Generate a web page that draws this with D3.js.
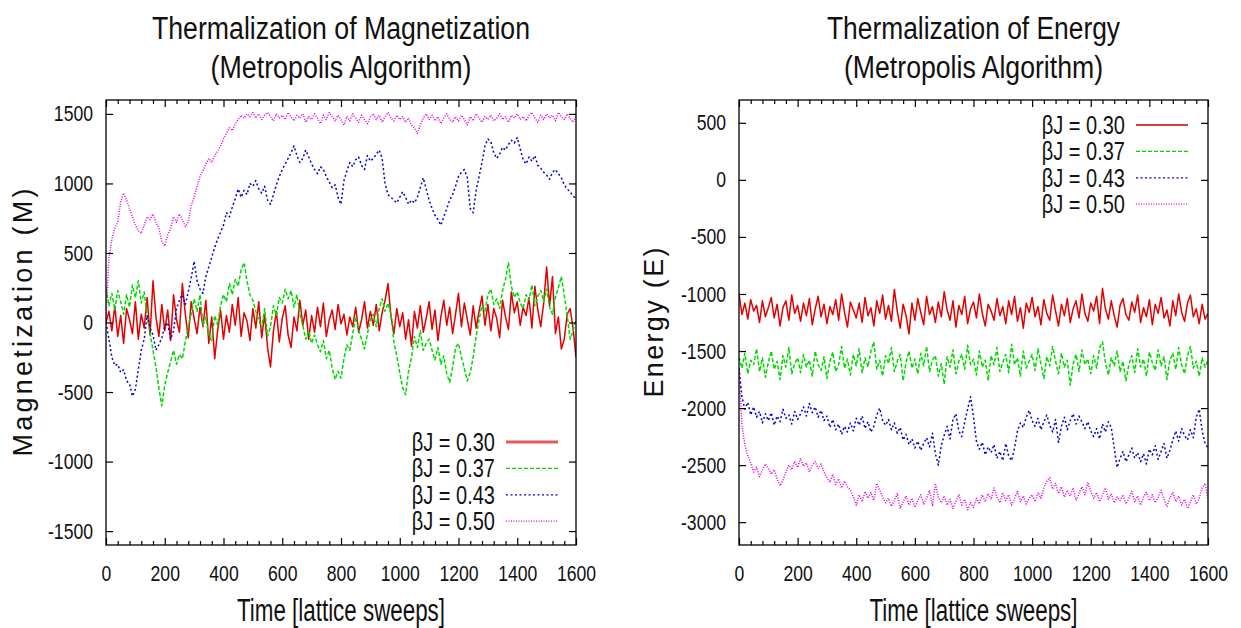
<!DOCTYPE html>
<html lang="en">
<head>
    <meta charset="UTF-8">
    <title>Thermalization (Metropolis Algorithm)</title>
    <script src="https://d3js.org/d3.v7.min.js"></script>
    <style>
        body { margin: 0; background: #fff; }
        text { fill: #111; }
        .narrow { font-family: 'Liberation Sans Narrow', 'Liberation Sans', Arial, sans-serif; }
        .wide { font-family: 'Liberation Sans', Arial, sans-serif; }
    </style>
</head>
<body>

    <script>
        // Sampling of the time axis (lattice sweeps)
        const sweepStep = 10;
        const sweeps = d3.range(0, 1601, sweepStep);

        // Series labels
        const seriesLabels = ['βJ = 0.30', 'βJ = 0.37', 'βJ = 0.43', 'βJ = 0.50'];

        // Magnetization, one value per 10 sweeps
        const magM030 = [
            0, 80, -60, 120, -100, 50, -150, 100, 20, -80, 150,
            -120, 60, -40, 180, -90, 300, 40, -100, 130, -60,
            90, -130, 200, 20, -70, 280, 60, -110, 150, 30,
            -80, 110, -30, 160, -150, 40, -260, -60, 90, -120,
            50, -70, 130, -20, 180, -100, 70, 10, -130, 100,
            -40, 150, -110, 60, -180, -320, -60, 80, -140, 30,
            120, -90, -180, 40, -60, 160, -20, 90, -120, 50,
            -70, 110, -30, 140, -100, 20, 90, -50, 130, -10,
            60, -90, 40, -30, 110, -70, 20, 150, -40, 80,
            -20, 130, -60, 70, 160, 280, 50, -80, 100, -30,
            70, -120, 20, -170, 80, -40, 120, -70, 30, 150,
            -50, 90, -130, 40, 160, -20, 110, -80, 60, 210,
            -30, 140, 20, -90, 120, -40, 80, 190, -20, 130,
            -60, 100, 30, -110, 160, 40, -50, 220, 70, 150,
            -20, 110, 50, 180, -40, 260, 90, -30, 140, 400,
            120, 330, -80, 40, -190, -120, 60, 100, -40, -250
        ];
        const magM037 = [
            250, 120, 210, 90, 230, 150, 60, 200, 110, 270, 180,
            300, 140, 220, 50, -80, -200, -320, -470, -600, -450,
            -360, -280, -200, -300, -230, -260, -140, -30, 60, 170,
            80, 200, -20, 40, -100, -130, 50, -20, 120, 200,
            150, 280, 200, 310, 260, 380, 430, 300, 200, 160,
            80, 20, -40, 100, -100, -30, 120, 50, 180, 140,
            240, 170, 230, 110, 200, 60, -20, -120, -60, -150,
            -90, -160, -210, -130, -260, -200, -330, -410, -350, -400,
            -260, -160, -200, -80, 40, -50, -120, -190, -80, 20,
            60, -30, 100, 170, 80, 140, 60, -140, -240, -360,
            -470, -520, -350, -250, -100, -180, -60, -200, -150, -120,
            -200, -270, -180, -300, -240, -370, -430, -320, -180, -150,
            -250, -330, -420, -360, -250, -100, 20, 120, 80, 200,
            240, 130, 170, 100, 230, 310, 430, 260, 180, 220,
            140, 100, 200, 160, 270, 120, 190, 230, 150, 240,
            110, 60, 180, 250, 330, 200, 50, -120, -60, 20
        ];
        const magM043 = [
            0, -120, -250, -310, -300, -360, -340, -420, -440, -530, -480,
            -340, -200, -120, 50, -40, -90, -200, -160, -110, -30,
            0, -120, -60, 100, 160, 200, 130, 220, 320, 440,
            300, 240, 210, 330, 400, 470, 540, 600, 650, 700,
            790, 760, 830, 890, 960, 900, 950, 920, 1000, 980,
            1020, 960, 930, 980, 880, 850, 920, 990, 1050, 1100,
            1140, 1180, 1220, 1270, 1200, 1150, 1180, 1240, 1190, 1140,
            1100, 1070, 1120, 1100, 1050, 1010, 970, 990, 900, 850,
            1020, 1090, 1150, 1120, 1170, 1190, 1130, 1100, 1200, 1160,
            1180, 1210, 1240, 1180, 1000, 920, 900, 880, 860, 900,
            940, 900, 850, 880, 860, 900, 970, 1040, 960, 880,
            820, 770, 740, 700, 760, 820, 880, 920, 980, 1050,
            1080, 1100, 1040, 820, 790, 950, 1050, 1150, 1270, 1320,
            1300, 1220, 1180, 1210, 1260, 1240, 1280, 1310, 1290, 1330,
            1250, 1170, 1140, 1190, 1160, 1200, 1130, 1110, 1080, 1060,
            1030, 1080, 1100, 1070, 1040, 990, 960, 940, 910, 890
        ];
        const magM050 = [
            50, 460, 600, 680, 720, 870, 930, 880, 820, 760, 700,
            660, 640, 700, 760, 740, 780, 720, 680, 580, 550,
            630, 680, 760, 720, 780, 740, 690, 720, 840, 900,
            980, 1050, 1090, 1140, 1180, 1150, 1200, 1230, 1270, 1320,
            1360, 1400, 1380, 1430, 1460, 1490, 1470, 1500, 1480, 1510,
            1470, 1500, 1460, 1490, 1510, 1480, 1450, 1500, 1470, 1490,
            1460, 1510, 1480, 1450, 1490, 1470, 1500, 1440, 1480, 1460,
            1500, 1470, 1430, 1490, 1460, 1510, 1480, 1450, 1490, 1460,
            1420, 1480, 1450, 1500, 1470, 1440, 1490, 1460, 1430, 1480,
            1500, 1460, 1490, 1440, 1480, 1510, 1470, 1450, 1490, 1460,
            1480, 1440, 1470, 1420, 1400, 1360, 1420, 1470, 1500, 1460,
            1490, 1450, 1480, 1430, 1470, 1500, 1460, 1440, 1480, 1450,
            1490, 1460, 1420, 1480, 1450, 1500, 1470, 1440, 1480, 1460,
            1490, 1450, 1470, 1500, 1460, 1480, 1440, 1490, 1470, 1500,
            1460, 1480, 1450, 1490, 1510, 1470, 1440, 1490, 1460, 1500,
            1470, 1490, 1450, 1510, 1480, 1460, 1500, 1470, 1440, 1480
        ];

        // Energy, one value per 10 sweeps
        const energyE030 = [
            -1000, -1180, -1080, -1220, -1050, -1150, -1100, -1250, -1060, -1200, -1120,
            -1030, -1210, -1090, -1280, -1120, -1060, -1230, -1010, -1170, -1100,
            -1240, -1080, -1190, -1040, -1270, -1130, -1020, -1200, -1090, -1260,
            -1110, -1180, -1050, -1230, -1000, -1160, -1290, -1070, -1140, -1210,
            -1080, -1250, -1030, -1190, -1120, -1280, -1060, -1170, -1010, -1220,
            -1100, -1240, -960, -1150, -1300, -1090, -1190, -1350, -1080, -1230,
            -1040, -1160, -1270, -1020, -1180, -1110, -1250, -1070, -1200, -980,
            -1140, -1230, -1060, -1290, -1100, -1180, -1020, -1260, -1130, -1070,
            -1210, -1000, -1170, -1280, -1090, -1150, -1230, -1040, -1190, -1110,
            -1260, -1060, -1180, -1020, -1240, -1120, -1300, -1080, -1160, -1030,
            -1200, -1110, -1270, -1050, -1170, -1230, -1010, -1150, -1280, -1090,
            -1190, -1040, -1250, -1130, -1060, -1210, -1000, -1170, -1240, -1080,
            -1150, -1020, -1260, -950, -1130, -1220, -1060, -1190, -1290, -1100,
            -1040, -1180, -1230, -1070, -1160, -1010, -1250, -1120, -1200, -1050,
            -1270, -1090, -1170, -1030, -1210, -1140, -1280, -1060, -1190, -1000,
            -1160, -1240, -1080, -1010, -1200, -1130, -1260, -1090, -1220, -1170
        ];
        const energyE037 = [
            -1550, -1650, -1520, -1700, -1580, -1620, -1480, -1680, -1560, -1730, -1600,
            -1500, -1660, -1590, -1750, -1540, -1640, -1470, -1700, -1610, -1560,
            -1690, -1530, -1640, -1580, -1720, -1500, -1620, -1670, -1550, -1740,
            -1590, -1510, -1680, -1620, -1460, -1650, -1570, -1710, -1530, -1630,
            -1480, -1690, -1560, -1640, -1500, -1420, -1660, -1580, -1720, -1540,
            -1610, -1470, -1680, -1590, -1530, -1760, -1600, -1500, -1650, -1570,
            -1700, -1520, -1630, -1460, -1680, -1580, -1540, -1720, -1610, -1790,
            -1550, -1640, -1490, -1700, -1590, -1530, -1660, -1450, -1620, -1570,
            -1710, -1500, -1640, -1580, -1760, -1540, -1620, -1470, -1680, -1600,
            -1530, -1690, -1440, -1620, -1560, -1720, -1500, -1650, -1590, -1530,
            -1670, -1480, -1610, -1740, -1550, -1630, -1460, -1590, -1700, -1520,
            -1640, -1580, -1800, -1610, -1530, -1680, -1490, -1620, -1570, -1700,
            -1540, -1650, -1470, -1420, -1600, -1710, -1560, -1630, -1500, -1680,
            -1590, -1760, -1620, -1540, -1690, -1480, -1640, -1570, -1720, -1510,
            -1600, -1670, -1490, -1630, -1550, -1750, -1580, -1520, -1660, -1470,
            -1620, -1700, -1540, -1460, -1650, -1590, -1720, -1560, -1640, -1580
        ];
        const energyE043 = [
            -1650, -1900, -2010, -1950, -2060, -1990, -2080, -2030, -2130, -2050, -2110,
            -2040, -2150, -2070, -2120, -2010, -2090, -2060, -2140, -2030, -2100,
            -2050, -1990, -2070, -1960, -2040, -1990, -2080, -2020, -2110, -2070,
            -2170, -2100, -2190, -2140, -2230, -2160, -2210, -2130, -2200, -2090,
            -2150, -2070, -2180, -2120, -2210, -2160, -2060, -2000, -2110, -2150,
            -2100, -2190, -2130, -2220, -2170, -2280, -2230, -2320, -2270, -2350,
            -2290, -2370, -2310, -2260, -2340, -2220, -2400, -2500, -2330, -2240,
            -2160, -2270, -2100, -2050, -2200, -2250, -2120, -2010, -1900, -2080,
            -2290, -2360, -2300, -2410, -2340, -2390, -2320, -2440, -2380, -2460,
            -2310, -2420, -2460, -2350, -2200, -2130, -2170, -2080, -2020, -2110,
            -2160, -2090, -2190, -2120, -2060, -2150, -2210, -2100, -2300, -2160,
            -2080, -2190, -2110, -2050, -2140, -2070, -2120, -2180, -2120, -2200,
            -2250, -2180, -2270, -2140, -2210, -2120, -2170, -2350, -2520, -2440,
            -2380, -2470, -2410, -2350, -2440, -2390, -2470, -2400, -2490, -2360,
            -2410, -2330, -2450, -2380, -2310, -2440, -2370, -2280, -2200, -2290,
            -2180, -2240, -2280, -2190, -2260, -2080, -2010, -2200, -2310, -2350
        ];
        const energyE050 = [
            -1650, -2150, -2320, -2420, -2480, -2560, -2520, -2600, -2540, -2490, -2530,
            -2580, -2540, -2620, -2680, -2630, -2560, -2500, -2540, -2470, -2520,
            -2440, -2510, -2480, -2560, -2500, -2470, -2530, -2490, -2560, -2610,
            -2650, -2580, -2670, -2620, -2700, -2640, -2690, -2720, -2780, -2850,
            -2760, -2820, -2730, -2790, -2740, -2810, -2660, -2720, -2780, -2830,
            -2790, -2860, -2810, -2750, -2880, -2820, -2770, -2850, -2790, -2870,
            -2810, -2760, -2840, -2790, -2720, -2860, -2660, -2780, -2830, -2770,
            -2850, -2800, -2880, -2820, -2760, -2850, -2800, -2890, -2830, -2870,
            -2790, -2840, -2760, -2820, -2750, -2800, -2700, -2780, -2830, -2740,
            -2810, -2760, -2850, -2790, -2730, -2820, -2770, -2840, -2790, -2760,
            -2820, -2740, -2790, -2700, -2640, -2610, -2710, -2660, -2750, -2690,
            -2780, -2720, -2770, -2700, -2810, -2750, -2690, -2760, -2650, -2730,
            -2790, -2740, -2820, -2760, -2700, -2800, -2750, -2830, -2780, -2810,
            -2760, -2840, -2790, -2730, -2820, -2770, -2850, -2780, -2740, -2810,
            -2760, -2830, -2780, -2720, -2800, -2860, -2790, -2740, -2820, -2770,
            -2850, -2800, -2880, -2820, -2760, -2840, -2790, -2700, -2660, -2800
        ];

        // Axis ticks
        const xTicks = [0, 200, 400, 600, 800, 1000, 1200, 1400, 1600];
        const xMinorTicks = d3.range(0, 1601, 40).filter(v => v % 200 !== 0);
        const magTicks = [-1500, -1000, -500, 0, 500, 1000, 1500];
        const energyTicks = [-3000, -2500, -2000, -1500, -1000, -500, 0, 500];

        // Line styles (gnuplot-like)
        const colors = ['#e30000', '#00d800', '#0000d0', '#e000e0'];
        const dashes = [null, '4,2', '2,2.5', '1,1.5'];

        const svg = d3.select('body')
            .append('svg')
            .attr('width', 1241)
            .attr('height', 628);

        // squeeze a text to look like a condensed face
        function condense(sel, k) {
            sel.each(function () {
                const w = this.getComputedTextLength();
                if (w > 0) {
                    d3.select(this)
                        .attr('textLength', w * k)
                        .attr('lengthAdjust', 'spacingAndGlyphs');
                }
            });
        }

        function drawPanel(p) {
            const x = d3.scaleLinear().domain([0, 1600]).range([p.left, p.right]);
            const y = d3.scaleLinear().domain(p.yDomain).range([p.bottom, p.top]);
            const g = svg.append('g');
            const plain = d => String(d);

            // clip
            g.append('clipPath').attr('id', p.id + '-clip')
                .append('rect')
                .attr('x', p.left).attr('y', p.top)
                .attr('width', p.right - p.left).attr('height', p.bottom - p.top);

            // data lines
            const line = d3.line()
                .x((d, i) => x(sweeps[i]))
                .y(d => y(d));

            g.append('g')
                .attr('clip-path', 'url(#' + p.id + '-clip)')
                .selectAll('path')
                .data(p.series)
                .enter()
                .append('path')
                .attr('d', d => line(d))
                .attr('fill', 'none')
                .attr('stroke', (d, i) => colors[i])
                .attr('stroke-width', 1.5)
                .attr('stroke-linejoin', 'round')
                .attr('stroke-dasharray', (d, i) => dashes[i]);

            // axes with inward ticks on all sides
            const xAxis = g.append('g').attr('transform', 'translate(0,' + p.bottom + ')')
                .call(d3.axisBottom(x).tickValues(xTicks).tickSize(-7).tickPadding(20).tickFormat(plain));
            const yAxis = g.append('g').attr('transform', 'translate(' + p.left + ',0)')
                .call(d3.axisLeft(y).tickValues(p.yTicks).tickSize(-7).tickPadding(13).tickFormat(plain));
            const others = [
                g.append('g').attr('transform', 'translate(0,' + p.bottom + ')')
                    .call(d3.axisBottom(x).tickValues(xMinorTicks).tickSize(-4).tickFormat('')),
                g.append('g').attr('transform', 'translate(0,' + p.top + ')')
                    .call(d3.axisTop(x).tickValues(xTicks).tickSize(-7).tickFormat('')),
                g.append('g').attr('transform', 'translate(0,' + p.top + ')')
                    .call(d3.axisTop(x).tickValues(xMinorTicks).tickSize(-4).tickFormat('')),
                g.append('g').attr('transform', 'translate(' + p.right + ',0)')
                    .call(d3.axisRight(y).tickValues(p.yTicks).tickSize(-7).tickFormat(''))
            ];
            [xAxis, yAxis].concat(others).forEach(ag => {
                ag.select('.domain').remove();
                ag.selectAll('line').attr('stroke', '#000').attr('stroke-width', 1.2);
                ag.selectAll('text')
                    .attr('class', 'narrow')
                    .style('font-size', '22px')
                    .attr('fill', '#111');
            });
            condense(xAxis.selectAll('text'), 0.8);
            condense(yAxis.selectAll('text'), 0.8);

            // frame
            g.append('rect')
                .attr('x', p.left).attr('y', p.top)
                .attr('width', p.right - p.left).attr('height', p.bottom - p.top)
                .attr('fill', 'none').attr('stroke', '#000').attr('stroke-width', 1.3);

            // titles
            const cx = (p.left + p.right) / 2;
            p.title.forEach((t, i) => {
                svg.append('text')
                    .attr('class', 'narrow')
                    .attr('x', cx).attr('y', 39 + i * 39)
                    .attr('text-anchor', 'middle')
                    .attr('textLength', p.titleLen[i])
                    .attr('lengthAdjust', 'spacingAndGlyphs')
                    .style('font-size', '31px')
                    .text(t);
            });

            // x-axis label
            svg.append('text')
                .attr('class', 'narrow')
                .attr('x', cx).attr('y', 621)
                .attr('text-anchor', 'middle')
                .attr('textLength', 208)
                .attr('lengthAdjust', 'spacingAndGlyphs')
                .style('font-size', '31px')
                .text('Time [lattice sweeps]');

            // y-axis label
            svg.append('text')
                .attr('class', 'wide')
                .attr('transform', 'translate(' + p.yLabelX + ',' + ((p.top + p.bottom) / 2) + ') rotate(-90)')
                .attr('text-anchor', 'middle')
                .attr('dy', '0.36em')
                .attr('textLength', p.yLabelLen)
                .attr('lengthAdjust', 'spacing')
                .style('font-size', '27px')
                .text(p.yLabel);

            // legend
            const lg = svg.append('g');
            seriesLabels.forEach((s, i) => {
                const ly = p.legendY + i * 26.4;
                const t = lg.append('text')
                    .attr('class', 'narrow')
                    .attr('x', p.legendX).attr('y', ly)
                    .attr('dy', '0.36em')
                    .attr('text-anchor', 'end')
                    .style('font-size', '25px')
                    .text(s);
                condense(t, 0.8);
                lg.append('line')
                    .attr('x1', p.legendX + 11).attr('x2', p.legendX + 63)
                    .attr('y1', ly).attr('y2', ly)
                    .attr('stroke', i === 0 ? p.legendRed : colors[i])
                    .attr('stroke-width', i === 0 ? p.legendRedWidth : 1.3)
                    .attr('stroke-dasharray', dashes[i]);
            });
        }

        drawPanel({
            id: 'mag',
            left: 106, right: 576, top: 100, bottom: 545,
            yDomain: [-1600, 1600],
            yTicks: magTicks,
            series: [magM030, magM037, magM043, magM050],
            title: ['Thermalization of Magnetization', '(Metropolis Algorithm)'],
            titleLen: [378, 261],
            yLabel: 'Magnetization (M)', yLabelX: 22, yLabelLen: 268,
            legendX: 495, legendY: 442, legendRed: '#e05a5a', legendRedWidth: 3
        });

        drawPanel({
            id: 'energy',
            left: 739, right: 1208, top: 100, bottom: 545,
            yDomain: [-3200, 700],
            yTicks: energyTicks,
            series: [energyE030, energyE037, energyE043, energyE050],
            title: ['Thermalization of Energy', '(Metropolis Algorithm)'],
            titleLen: [293, 259],
            yLabel: 'Energy (E)', yLabelX: 653, yLabelLen: 150,
            legendX: 1125, legendY: 125, legendRed: '#c00000', legendRedWidth: 1.6
        });
    </script>

</body>
</html>
